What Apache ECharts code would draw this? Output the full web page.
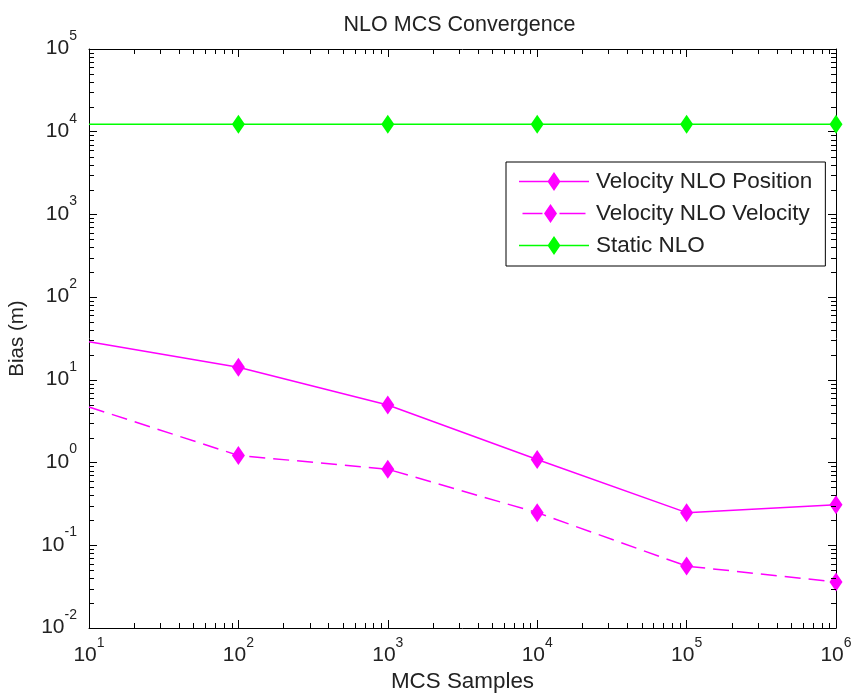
<!DOCTYPE html>
<html>
<head>
<meta charset="utf-8">
<script src="https://cdn.jsdelivr.net/npm/echarts@6/dist/echarts.min.js"></script>
<style>
html,body{margin:0;padding:0;background:#fff;}
#chart{width:854px;height:696px;}
</style>
</head>
<body>
<div id="chart"></div>
<script>
// ---- data ----
const samples = [10, 100, 1000, 10000, 100000, 1000000];
const velocityPosition = [28.9, 14.2, 4.96, 1.09, 0.248, 0.31];
const velocityVelocity = [4.7, 1.22, 0.83, 0.248, 0.056, 0.036];
const staticNLO = [12300, 12300, 12300, 12300, 12300, 12300];
const seriesNames = ['Velocity NLO Position', 'Velocity NLO Velocity', 'Static NLO'];

const FONT = '"Liberation Sans", Arial, sans-serif';
const TXT = '#222';
const chart = echarts.init(document.getElementById('chart'));

function pts(vals) {
  return samples.map((x, i) => i === 0 ? { value: [x, vals[i]], symbol: 'none' } : [x, vals[i]]);
}
function expOf(v) { return String(Math.round(Math.log10(v))); }

const xRich = {
  s: { fontSize: 14, fontFamily: FONT, color: TXT, height: 14, verticalAlign: 'top' },
  b: { fontSize: 21, fontFamily: FONT, color: TXT, height: 21, verticalAlign: 'bottom', padding: [9, 0, 0, 0] }
};
const yRich = {
  s: { fontSize: 14, fontFamily: FONT, color: TXT, height: 14, verticalAlign: 'top' },
  b: { fontSize: 21, fontFamily: FONT, color: TXT, height: 21, verticalAlign: 'bottom', padding: [9, 0, 10, 0] }
};

const axisLineStyle = { show: true, lineStyle: { color: '#000', width: 1 } };
const majorTick = { show: true, inside: true, length: 8, lineStyle: { color: '#000', width: 1 } };

const mag = '#ff00ff', grn = '#00ff00';
const sym = [13, 19];

// legend icons: line sample with a diamond marker (70 x 19 box)
const DIAMOND = 'M35,0 L41.5,9.5 L35,19 L28.5,9.5 Z';
const iconSolid = 'path://M0,8.8 L70,8.8 L70,10.2 L0,10.2 Z ' + DIAMOND;
const iconDashed = 'path://M7,8.8 L27,8.8 L27,10.2 L7,10.2 Z M44,8.8 L70,8.8 L70,10.2 L44,10.2 Z ' + DIAMOND;

const option = {
  backgroundColor: '#fff',
  animation: false,
  title: {
    text: 'NLO MCS Convergence',
    left: 454.5, top: 9, textAlign: 'center',
    textStyle: { fontSize: 21.5, fontWeight: 'normal', fontFamily: FONT, color: TXT }
  },
  legend: {
    left: 506, top: 162,
    orient: 'vertical',
    backgroundColor: '#fff',
    borderColor: '#000', borderWidth: 1,
    padding: [8, 13, 9, 13],
    itemWidth: 70, itemHeight: 19, itemGap: 9,
    symbolKeepAspect: true,
    textStyle: { fontSize: 22.5, fontFamily: FONT, color: TXT, padding: [0, 0, 0, 2] },
    data: [
      { name: seriesNames[0], icon: iconSolid },
      { name: seriesNames[1], icon: iconDashed },
      { name: seriesNames[2], icon: iconSolid }
    ]
  },
  grid: { left: 89, right: 18, top: 49, bottom: 68, containLabel: false, outerBoundsMode: 'none' },
  xAxis: [{
    type: 'log', logBase: 10, min: 10, max: 1000000,
    position: 'bottom',
    name: 'MCS Samples', nameLocation: 'middle', nameGap: 42,
    nameTextStyle: { fontSize: 22.4, fontFamily: FONT, color: TXT },
    axisLine: axisLineStyle, axisTick: majorTick,
    splitLine: { show: false },
    axisLabel: { margin: 8, formatter: v => '{b|10}{s|' + expOf(v) + '}', rich: xRich }
  }, {
    type: 'log', logBase: 10, min: 10, max: 1000000,
    position: 'top',
    axisLine: axisLineStyle, axisTick: majorTick,
    splitLine: { show: false }, axisLabel: { show: false }
  }],
  yAxis: [{
    type: 'log', logBase: 10, min: 0.01, max: 100000,
    position: 'left',
    name: 'Bias (m)', nameLocation: 'middle', nameGap: 61, nameRotate: 90,
    nameTextStyle: { fontSize: 20.5, fontFamily: FONT, color: TXT },
    axisLine: axisLineStyle, axisTick: majorTick,
    splitLine: { show: false },
    axisLabel: { margin: 12, formatter: v => '{b|10}{s|' + expOf(v) + '}', rich: yRich }
  }, {
    type: 'log', logBase: 10, min: 0.01, max: 100000,
    position: 'right',
    axisLine: axisLineStyle, axisTick: majorTick,
    splitLine: { show: false }, axisLabel: { show: false }
  }],
  series: [{
    name: seriesNames[0], type: 'line', data: pts(velocityPosition),
    symbol: 'diamond', symbolSize: sym,
    itemStyle: { color: mag }, lineStyle: { color: mag, width: 1.5, type: 'solid' },
    z: 3
  }, {
    name: seriesNames[1], type: 'line', data: pts(velocityVelocity),
    symbol: 'diamond', symbolSize: sym,
    itemStyle: { color: mag }, lineStyle: { color: mag, width: 1.5, type: [16, 8] },
    z: 3
  }, {
    name: seriesNames[2], type: 'line', data: pts(staticNLO),
    symbol: 'diamond', symbolSize: sym,
    itemStyle: { color: grn }, lineStyle: { color: grn, width: 1.5, type: 'solid' },
    z: 3
  }]
};
chart.setOption(option);

// minor log ticks on all four sides, positioned via the axis scales
function minorTicks() {
  const els = [];
  const L = 5;
  const x0 = chart.convertToPixel({ xAxisIndex: 0 }, 10);
  const x1 = chart.convertToPixel({ xAxisIndex: 0 }, 1000000);
  const y0 = chart.convertToPixel({ yAxisIndex: 0 }, 0.01);
  const y1 = chart.convertToPixel({ yAxisIndex: 0 }, 100000);
  const st = { stroke: '#000', lineWidth: 1 };
  for (let d = 1; d < 6; d++) {
    for (let m = 2; m <= 9; m++) {
      const v = Math.pow(10, d) * m;
      const px = Math.round(chart.convertToPixel({ xAxisIndex: 0 }, v)) + 0.5;
      els.push({ type: 'line', silent: true, z: 10, shape: { x1: px, y1: y0, x2: px, y2: y0 - L }, style: st });
      els.push({ type: 'line', silent: true, z: 10, shape: { x1: px, y1: y1, x2: px, y2: y1 + L }, style: st });
    }
  }
  for (let d = -2; d < 5; d++) {
    for (let m = 2; m <= 9; m++) {
      const v = Math.pow(10, d) * m;
      const py = Math.round(chart.convertToPixel({ yAxisIndex: 0 }, v)) + 0.5;
      els.push({ type: 'line', silent: true, z: 10, shape: { x1: x0, y1: py, x2: x0 + L, y2: py }, style: st });
      els.push({ type: 'line', silent: true, z: 10, shape: { x1: x1, y1: py, x2: x1 - L, y2: py }, style: st });
    }
  }
  chart.setOption({ graphic: els });
}
minorTicks();
</script>
</body>
</html>
